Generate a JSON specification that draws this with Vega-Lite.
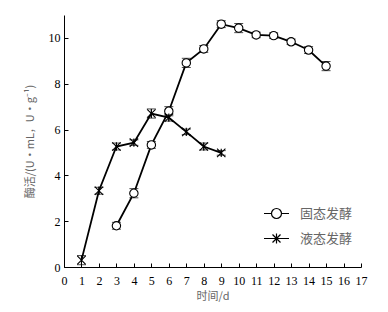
{
  "$schema": "https://vega.github.io/schema/vega-lite/v6.json",
  "autosize": {"type": "none"},
  "padding": {"left": 64, "top": 15, "right": 27, "bottom": 45},
  "width": 297,
  "height": 252,
  "config": {
    "view": {"stroke": null},
    "font": "Liberation Serif",
    "axis": {
      "domainColor": "#000",
      "domainWidth": 1,
      "tickColor": "#000",
      "tickSize": -4,
      "grid": false,
      "labelColor": "#000",
      "labelFont": "Liberation Serif",
      "labelFontSize": 12,
      "labelOverlap": false,
      "labelFlush": false,
      "titleFont": "Noto Sans CJK SC",
      "titleFontWeight": "normal",
      "titleFontSize": 11,
      "titleColor": "#666"
    }
  },
  "data": {
    "values": [
      {"day": 3, "value": 1.8, "err": 0.15, "type": "固态发酵"},
      {"day": 4, "value": 3.22, "err": 0.2, "type": "固态发酵"},
      {"day": 5, "value": 5.33, "err": 0.15, "type": "固态发酵"},
      {"day": 6, "value": 6.8, "err": 0.2, "type": "固态发酵"},
      {"day": 7, "value": 8.91, "err": 0.2, "type": "固态发酵"},
      {"day": 8, "value": 9.52, "err": 0.15, "type": "固态发酵"},
      {"day": 9, "value": 10.6, "err": 0.15, "type": "固态发酵"},
      {"day": 10, "value": 10.43, "err": 0.2, "type": "固态发酵"},
      {"day": 11, "value": 10.13, "err": 0.12, "type": "固态发酵"},
      {"day": 12, "value": 10.1, "err": 0.12, "type": "固态发酵"},
      {"day": 13, "value": 9.83, "err": 0.12, "type": "固态发酵"},
      {"day": 14, "value": 9.47, "err": 0.15, "type": "固态发酵"},
      {"day": 15, "value": 8.77, "err": 0.2, "type": "固态发酵"},
      {"day": 1, "value": 0.3, "err": 0.2, "type": "液态发酵"},
      {"day": 2, "value": 3.33, "err": 0.15, "type": "液态发酵"},
      {"day": 3, "value": 5.26, "err": 0.15, "type": "液态发酵"},
      {"day": 4, "value": 5.43, "err": 0.12, "type": "液态发酵"},
      {"day": 5, "value": 6.7, "err": 0.2, "type": "液态发酵"},
      {"day": 6, "value": 6.52, "err": 0.15, "type": "液态发酵"},
      {"day": 7, "value": 5.9, "err": 0.12, "type": "液态发酵"},
      {"day": 8, "value": 5.26, "err": 0.15, "type": "液态发酵"},
      {"day": 9, "value": 4.98, "err": 0.1, "type": "液态发酵"}
    ]
  },
  "encoding": {
    "x": {
      "field": "day",
      "type": "quantitative",
      "scale": {"domain": [0, 17], "nice": false},
      "axis": {"values": [0,1,2,3,4,5,6,7,8,9,10,11,12,13,14,15,16,17], "title": "时间/d", "labelPadding": 12, "titlePadding": 4}
    },
    "y": {
      "field": "value",
      "type": "quantitative",
      "scale": {"domain": [0, 11], "nice": false},
      "axis": {"values": [0,2,4,6,8,10], "title": "酶活/(U·mL，U·g⁻¹)", "labelPadding": 8, "titlePadding": 13}
    }
  },
  "resolve": {"scale": {"shape": "independent"}, "legend": {"shape": "independent"}},
  "layer": [
    {
      "mark": {"type": "line", "color": "#000", "strokeWidth": 1.8},
      "encoding": {"detail": {"field": "type", "type": "nominal"}}
    },
    {
      "mark": {"type": "errorbar", "ticks": {"size": 9, "color": "#000", "strokeWidth": 1.8}, "rule": {"color": "#000"}},
      "encoding": {
        "yError": {"field": "err"},
        "detail": {"field": "type", "type": "nominal"}
      }
    },
    {
      "mark": {"type": "point", "filled": true, "fill": "#fff", "stroke": "#000", "strokeWidth": 1.1, "opacity": 1, "size": 70},
      "encoding": {
        "shape": {
          "field": "type",
          "type": "nominal",
          "scale": {"domain": ["固态发酵", "液态发酵"], "range": ["circle", "M-1,-1L1,1M1,-1L-1,1M0,-1L0,1"]},
          "legend": null
        }
      }
    },
    {
      "mark": {"type": "point", "filled": false, "stroke": "#000", "opacity": 0},
      "encoding": {
        "shape": {
          "field": "type",
          "type": "nominal",
          "scale": {"domain": ["固态发酵", "液态发酵"], "range": ["M-2.5,0L-1,0M1,0L2.5,0M-1,0A1,1 0 1,1 1,0A1,1 0 1,1 -1,0", "M-2.5,0L2.5,0M-0.8,-0.8L0.8,0.8M0.8,-0.8L-0.8,0.8M0,-1L0,1"]},
          "legend": {
            "title": null,
            "orient": "none",
            "legendX": 206,
            "legendY": 192,
            "symbolSize": 100,
            "symbolStrokeColor": "#000",
            "symbolStrokeWidth": 1.2,
            "symbolFillColor": "#fff",
            "labelFont": "Noto Sans CJK SC",
            "labelFontSize": 13,
            "labelColor": "#666",
            "labelOffset": 17,
            "rowPadding": 10,
            "encode": {"symbols": {"update": {"opacity": {"value": 1}, "strokeOpacity": {"value": 1}, "fill": {"value": "#fff"}, "stroke": {"value": "#000"}}}}
          }
        }
      }
    }
  ]
}
